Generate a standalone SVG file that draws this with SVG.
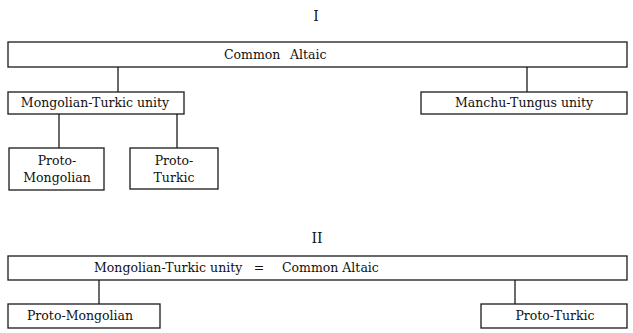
<svg xmlns="http://www.w3.org/2000/svg" width="633" height="333" viewBox="0 0 633 333">
<style>
.b{fill:#fff;stroke:#1a1a1a;stroke-width:1.3}
.c{stroke:#1a1a1a;stroke-width:1.3;fill:none}
text{font-family:"DejaVu Serif","Liberation Serif",serif;font-size:12.5px;fill:#111;text-anchor:middle}
.s{text-anchor:start}
.t{font-size:14px}
</style>
<rect width="633" height="333" fill="#fff"/>
<text class="t" x="316" y="21">I</text>
<text class="t" x="317" y="243">II</text>
<g id="connectors">
<line class="c" x1="118" y1="67" x2="118" y2="92"/>
<line class="c" x1="527" y1="67" x2="527" y2="92"/>
<line class="c" x1="59" y1="114" x2="59" y2="148"/>
<line class="c" x1="177" y1="114" x2="177" y2="148"/>
<line class="c" x1="99" y1="280" x2="99" y2="304"/>
<line class="c" x1="515" y1="280" x2="515" y2="304"/>
</g>
<g id="common-altaic">
<rect class="b" x="8" y="42" width="619" height="25"/>
<text class="s" x="224" y="59">Common</text>
<text class="s" x="290" y="59">Altaic</text>
</g>
<g id="mongolian-turkic-unity">
<rect class="b" x="8" y="92" width="176" height="22"/>
<text x="95" y="107">Mongolian-Turkic unity</text>
</g>
<g id="manchu-tungus-unity">
<rect class="b" x="421" y="92" width="206" height="22"/>
<text x="524" y="107">Manchu-Tungus unity</text>
</g>
<g id="proto-mongolian-1">
<rect class="b" x="9" y="148" width="95" height="42"/>
<text x="57" y="165">Proto-</text>
<text x="57" y="182">Mongolian</text>
</g>
<g id="proto-turkic-1">
<rect class="b" x="130" y="148" width="88" height="41"/>
<text x="174" y="165">Proto-</text>
<text x="174" y="182">Turkic</text>
</g>
<g id="mt-equals-ca">
<rect class="b" x="8" y="256" width="619" height="24"/>
<text class="s" x="94" y="272">Mongolian-Turkic unity</text>
<text x="259" y="272">=</text>
<text class="s" x="282" y="272">Common Altaic</text>
</g>
<g id="proto-mongolian-2">
<rect class="b" x="8" y="304" width="152" height="24"/>
<text x="80" y="320">Proto-Mongolian</text>
</g>
<g id="proto-turkic-2">
<rect class="b" x="481" y="304" width="146" height="24"/>
<text x="555" y="320">Proto-Turkic</text>
</g>
</svg>
